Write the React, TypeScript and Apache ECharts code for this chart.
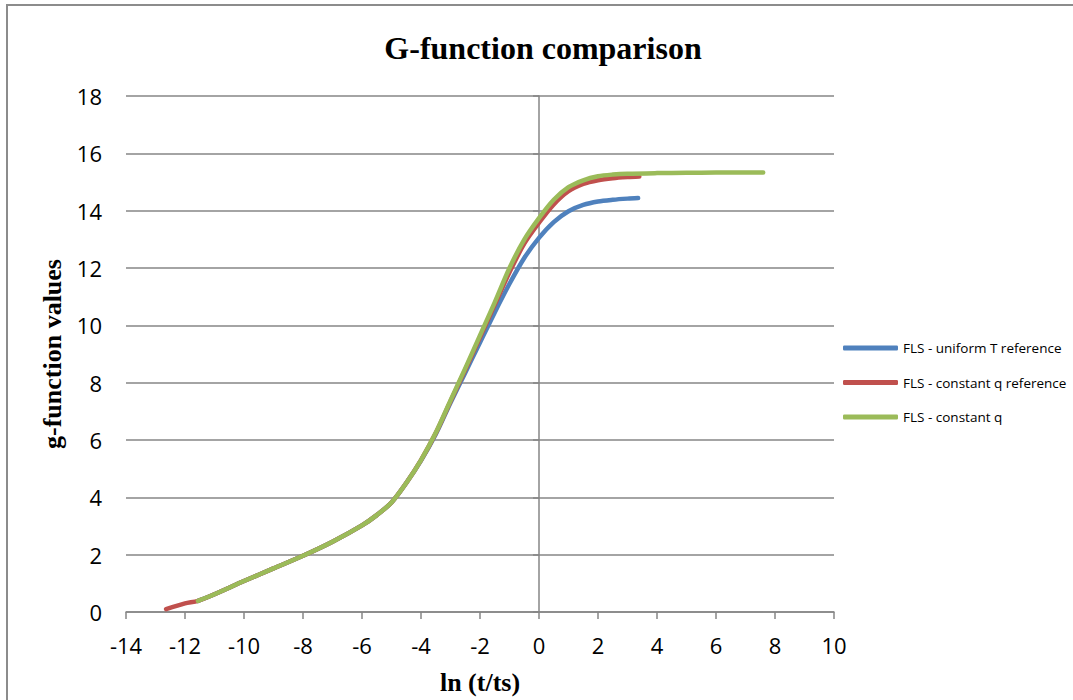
import React, { useEffect, useRef } from "react";
import * as echarts from "echarts";

const seriesNames = [
  "FLS - uniform T reference",
  "FLS - constant q reference",
  "FLS - constant q",
];
const seriesColors = ["#4F81BD", "#C0504D", "#9BBB59"];

// FLS - uniform T reference
const uniformTX = [-11.56, -11, -10, -9, -8, -7, -6, -5.5, -5, -4.5, -4, -3.5, -3, -2.5, -2, -1.5, -1, -0.5, 0, 0.5, 1, 1.5, 2, 2.5, 3, 3.36];
const uniformTY = [0.39, 0.62, 1.08, 1.52, 1.96, 2.45, 3.02, 3.38, 3.82, 4.5, 5.28, 6.2, 7.3, 8.35, 9.4, 10.45, 11.45, 12.35, 13.05, 13.6, 13.98, 14.2, 14.32, 14.38, 14.42, 14.44];

// FLS - constant q reference
const constQRefX = [-12.64, -12, -11.56, -11, -10, -9, -8, -7, -6, -5.5, -5, -4.5, -4, -3.5, -3, -2.5, -2, -1.5, -1, -0.5, 0, 0.5, 1, 1.5, 2, 2.5, 3, 3.4];
const constQRefY = [0.1, 0.3, 0.39, 0.62, 1.08, 1.52, 1.96, 2.45, 3.02, 3.38, 3.82, 4.5, 5.3, 6.24, 7.35, 8.45, 9.58, 10.72, 11.85, 12.85, 13.58, 14.22, 14.68, 14.93, 15.06, 15.13, 15.17, 15.19];

// FLS - constant q
const constQX = [-11.56, -11, -10, -9, -8, -7, -6, -5.5, -5, -4.5, -4, -3.5, -3, -2.5, -2, -1.5, -1, -0.5, 0, 0.5, 1, 1.5, 2, 2.5, 3, 4, 5, 6, 7, 7.6];
const constQY = [0.39, 0.62, 1.08, 1.52, 1.96, 2.45, 3.02, 3.38, 3.82, 4.5, 5.3, 6.25, 7.38, 8.5, 9.65, 10.8, 12.0, 12.99, 13.74, 14.38, 14.82, 15.06, 15.2, 15.26, 15.29, 15.31, 15.32, 15.33, 15.33, 15.33];

const xMin = -14;
const xMax = 10;
const xStep = 2;
const yMin = 0;
const yMax = 18;
const yStep = 2;

const zip = (xs: number[], ys: number[]) => xs.map((x, i) => [x, ys[i]]);

const gridColor = "#868686";

export default function App() {
  const ref = useRef<HTMLDivElement>(null);
  useEffect(() => {
    if (!ref.current) return;
    const chart = echarts.init(ref.current, undefined, { renderer: "svg" });
    const serif = "'Liberation Serif', 'Times New Roman', serif";
    const sans = "'Open Sans', 'Noto Sans', sans-serif";
    const datasets = [zip(uniformTX, uniformTY), zip(constQRefX, constQRefY), zip(constQX, constQY)];
    chart.setOption({
      animation: false,
      backgroundColor: "#ffffff",
      title: {
        text: "G-function comparison",
        left: 538,
        top: 27,
        textAlign: "center",
        textStyle: { fontFamily: serif, fontWeight: "bold", fontSize: 32, color: "#000" },
      },
      legend: {
        orient: "vertical",
        left: 838,
        top: 336,
        itemWidth: 55,
        itemHeight: 5,
        itemGap: 20.5,
        icon: "roundRect",
        data: seriesNames,
        textStyle: { fontFamily: sans, fontSize: 13.5, color: "#000", lineHeight: 14 },
      },
      grid: { left: 126, right: 239, top: 96, bottom: 87 },
      xAxis: {
        type: "value",
        min: xMin,
        max: xMax,
        interval: xStep,
        name: "ln (t/ts)",
        nameLocation: "middle",
        nameGap: 57,
        nameTextStyle: { fontFamily: serif, fontWeight: "bold", fontSize: 26, color: "#000" },
        axisLine: { show: true, onZero: false, lineStyle: { color: gridColor, width: 1.5 } },
        axisTick: { show: true, length: 7, lineStyle: { color: gridColor, width: 1.5 } },
        axisLabel: { fontFamily: sans, fontSize: 22, color: "#000", margin: 22 },
        splitLine: { show: false },
      },
      yAxis: [
        {
          type: "value",
          position: "left",
          min: yMin,
          max: yMax,
          interval: yStep,
          name: "g-function values",
          nameLocation: "middle",
          nameGap: 56,
          nameTextStyle: { fontFamily: serif, fontWeight: "bold", fontSize: 26, color: "#000" },
          axisLine: { show: false, onZero: false },
          axisTick: { show: false },
          axisLabel: { fontFamily: sans, fontSize: 22, color: "#000", margin: 24 },
          splitLine: { show: true, lineStyle: { color: gridColor, width: 1.5 } },
        },
        {
          type: "value",
          position: "left",
          min: yMin,
          max: yMax,
          interval: yStep,
          axisLine: { show: true, onZero: true, lineStyle: { color: gridColor, width: 1.5 } },
          axisTick: { show: true, length: 6, lineStyle: { color: gridColor, width: 1.5 } },
          axisLabel: { show: false },
          splitLine: { show: false },
        },
      ],
      graphic: [
        {
          type: "rect",
          silent: true,
          z: -10,
          shape: { x: 7, y: 5, width: 1300, height: 900 },
          style: { fill: "none", stroke: "#8c8c8c", lineWidth: 2 },
        },
      ],
      series: seriesNames.map((name, i) => ({
        name,
        type: "line",
        data: datasets[i],
        xAxisIndex: 0,
        yAxisIndex: 0,
        smooth: 0.3,
        showSymbol: false,
        symbol: "none",
        color: seriesColors[i],
        lineStyle: { color: seriesColors[i], width: 4.5, cap: "round", join: "round" },
        z: 3 + i,
      })),
    });
    return () => chart.dispose();
  }, []);
  return (
    <div
      ref={ref}
      style={{ position: "fixed", left: 0, top: 0, width: 1073, height: 700, background: "#fff" }}
    />
  );
}
